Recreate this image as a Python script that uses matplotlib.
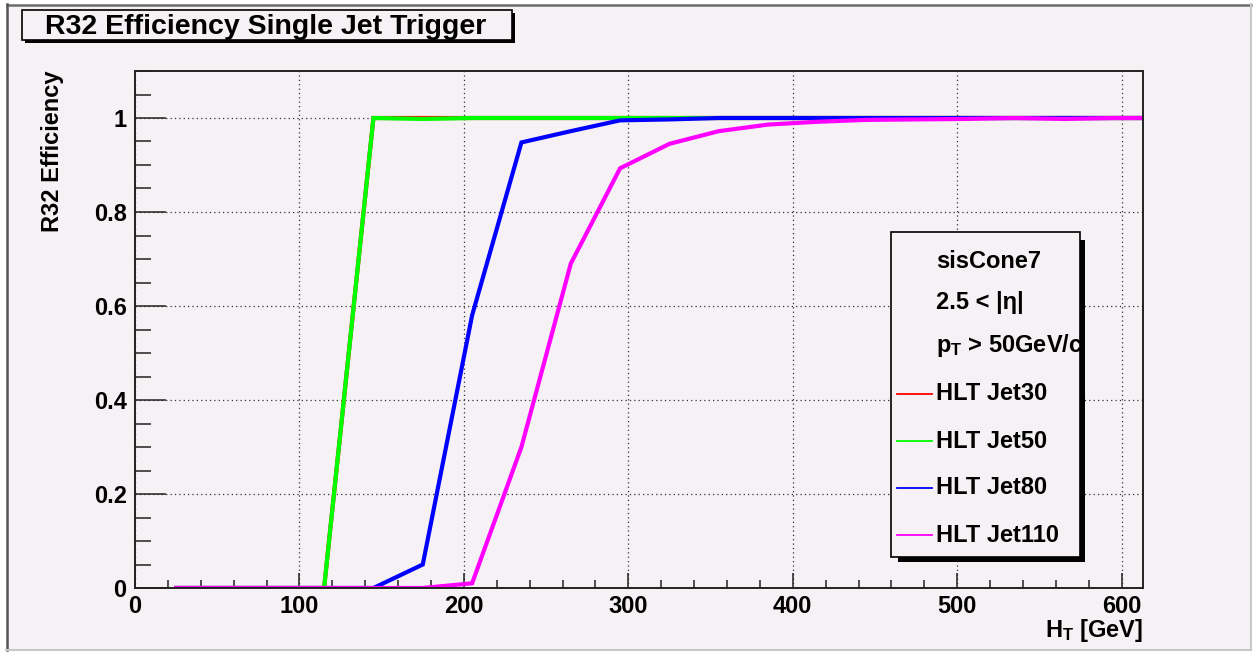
import matplotlib
matplotlib.use("Agg")
import matplotlib.pyplot as plt
from matplotlib.lines import Line2D
from matplotlib.patches import Rectangle

plt.rcParams["font.family"] = ["Liberation Sans", "DejaVu Sans"]
plt.rcParams["font.weight"] = "bold"
plt.rcParams["mathtext.fontset"] = "custom"
plt.rcParams["mathtext.rm"] = "Liberation Sans:bold"
plt.rcParams["mathtext.it"] = "Liberation Sans:bold"
plt.rcParams["mathtext.bf"] = "Liberation Sans:bold"
plt.rcParams["mathtext.default"] = "rm"

# H_T bin centres [GeV]
ht = [25, 55, 85, 115, 145, 175, 205, 235, 265, 295, 325,
      355, 385, 415, 445, 475, 505, 535, 565, 595, 625]

eff_jet30 = [0, 0, 0, 0, 1.0, 1.0, 1.0, 1.0, 1.0, 1.0, 1.0,
             1.0, 1.0, 1.0, 1.0, 1.0, 1.0, 1.0, 1.0, 1.0, 1.0]
eff_jet50 = [0, 0, 0, 0, 1.0, 0.998, 1.0, 1.0, 1.0, 1.0, 1.0,
             1.0, 1.0, 1.0, 1.0, 1.0, 1.0, 1.0, 1.0, 1.0, 1.0]
eff_jet80 = [0, 0, 0, 0, 0, 0.05, 0.58, 0.948, 0.972, 0.995, 0.997,
             1.0, 1.0, 1.0, 1.0, 1.0, 1.0, 1.0, 1.0, 1.0, 1.0]
eff_jet110 = [0, 0, 0, 0, 0, 0, 0.01, 0.30, 0.69, 0.893, 0.945,
              0.972, 0.986, 0.992, 0.996, 0.997, 0.998, 1.0, 0.998, 1.0, 1.0]

series_names = ["HLT Jet30", "HLT Jet50", "HLT Jet80", "HLT Jet110"]
series_values = [eff_jet30, eff_jet50, eff_jet80, eff_jet110]
series_colors = ["#ff0000", "#00ff00", "#0000ff", "#ff00ff"]

legend_header = ["sisCone7", "2.5 < |\u03b7|", r"p$_{T}$ > 50GeV/c"]

W, H = 1254, 652
BG = "#f5f1f5"

fig = plt.figure(figsize=(W / 100, H / 100), dpi=100, facecolor="white")


def fx(x):
    return x / W


def fy(y):
    return 1 - y / H


# canvas panel with bevelled border
fig.patches.append(Rectangle((fx(7), fy(649)), fx(1250) - fx(7), fy(4) - fy(649),
                             transform=fig.transFigure, facecolor=BG,
                             edgecolor="none", zorder=-5))
fig.add_artist(Line2D([fx(7), fx(1251)], [fy(4.5), fy(4.5)], color="#6e6e6e", lw=1.8,
                      transform=fig.transFigure))
fig.add_artist(Line2D([fx(6.5), fx(6.5)], [fy(4), fy(650)], color="#555555", lw=1.8,
                      transform=fig.transFigure))
fig.add_artist(Line2D([fx(6), fx(1251)], [fy(649.5), fy(649.5)], color="#c8c8c8", lw=1.5,
                      transform=fig.transFigure))
fig.add_artist(Line2D([fx(1250.5), fx(1250.5)], [fy(4), fy(650)], color="#c8c8c8", lw=1.5,
                      transform=fig.transFigure))

ax = fig.add_axes([fx(135), fy(588), fx(1143) - fx(135), fy(71) - fy(588)])
ax.set_facecolor(BG)

for vals, col in zip(series_values, series_colors):
    ax.plot(ht, vals, color=col, lw=3.0, solid_joinstyle="miter", zorder=3)

ax.set_xlim(0, 613)
ax.set_ylim(0, 1.1)

ax.set_xticks([0, 100, 200, 300, 400, 500, 600])
ax.set_xticks([v for v in range(0, 613, 20)], minor=True)
ax.set_yticks([0, 0.2, 0.4, 0.6, 0.8, 1.0])
ax.set_yticklabels(["0", "0.2", "0.4", "0.6", "0.8", "1"])
ax.set_yticks([i * 0.05 for i in range(23)], minor=True)

ax.tick_params(axis="x", which="major", direction="in", length=11, width=1.1,
               color="#222222", labelsize=17, pad=5, top=False)
ax.tick_params(axis="x", which="minor", direction="in", length=6, width=1.1,
               color="#222222", top=False)
ax.tick_params(axis="y", which="major", direction="in", length=22, width=1.1,
               color="#222222", labelsize=17, pad=6, right=False)
ax.tick_params(axis="y", which="minor", direction="in", length=11.5, width=1.1,
               color="#222222", right=False)
for lab in ax.get_xticklabels() + ax.get_yticklabels():
    lab.set_fontweight("bold")

ax.grid(True, which="major", color="#333333", lw=0.9, linestyle=(0, (1, 2.5)), zorder=1)
for sp in ax.spines.values():
    sp.set_color("#222222")
    sp.set_linewidth(1.4)
    sp.set_zorder(4)

fig.text(fx(53), fy(71), "R32 Efficiency", rotation=90, ha="center", va="top",
         fontsize=17, fontweight="bold")
fig.text(fx(1143), fy(630), r"H$_{T}$ [GeV]", ha="right", va="center",
         fontsize=17, fontweight="bold")

# title box with shadow
fig.patches.append(Rectangle((fx(25), fy(43)), fx(515) - fx(25), fy(13) - fy(43),
                             transform=fig.transFigure, facecolor="black",
                             edgecolor="none", zorder=5))
fig.patches.append(Rectangle((fx(22), fy(40)), fx(512) - fx(22), fy(10) - fy(40),
                             transform=fig.transFigure, facecolor=BG,
                             edgecolor="black", lw=1.2, zorder=6))
fig.text(fx(266), fy(26.5), "R32 Efficiency Single Jet Trigger", ha="center",
         va="center", fontsize=20.5, fontweight="bold", zorder=7)

# legend box with shadow
fig.patches.append(Rectangle((fx(898), fy(562)), fx(1085) - fx(898), fy(240) - fy(562),
                             transform=fig.transFigure, facecolor="black",
                             edgecolor="none", zorder=5))
fig.patches.append(Rectangle((fx(891), fy(557)), fx(1080) - fx(891), fy(232) - fy(557),
                             transform=fig.transFigure, facecolor=BG,
                             edgecolor="black", lw=1.2, zorder=6))
header_y = [262, 302, 345]
for txt, yy in zip(legend_header, header_y):
    fig.text(fx(936), fy(yy), txt, ha="left", va="center", fontsize=17,
             fontweight="bold", zorder=7)
entry_y = [394, 441, 488, 535]
for name, col, yy in zip(series_names, series_colors, entry_y):
    fig.add_artist(Line2D([fx(897), fx(932)], [fy(yy), fy(yy)], color=col, lw=1.3,
                          transform=fig.transFigure, zorder=7))
    fig.text(fx(936), fy(yy), name, ha="left", va="center", fontsize=17,
             fontweight="bold", zorder=7)

fig.savefig("out.png", dpi=100, facecolor=fig.get_facecolor())
